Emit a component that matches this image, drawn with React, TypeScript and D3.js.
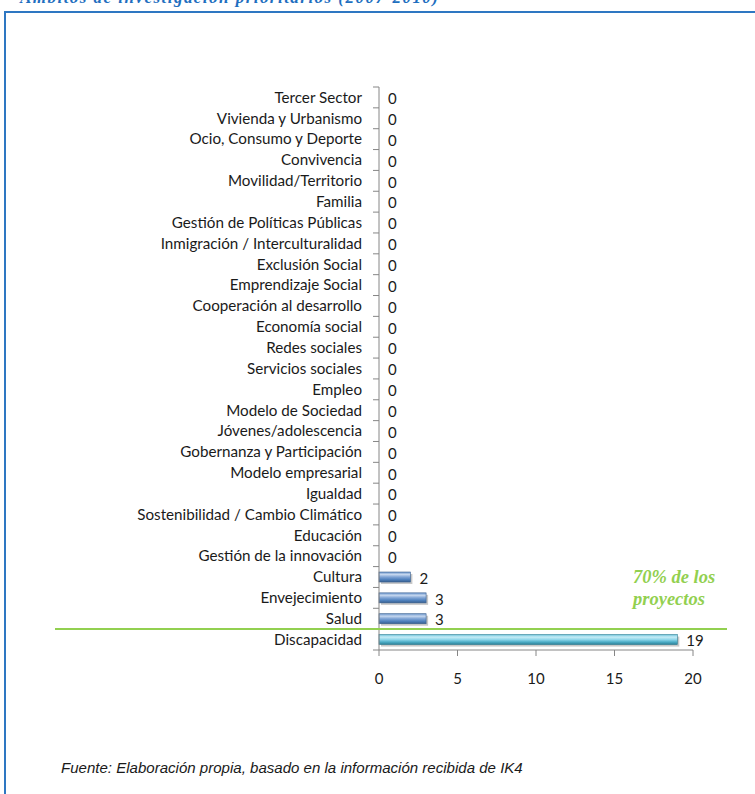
import { useRef, useEffect } from "react";
import * as d3 from "d3";

const categories = [
  "Tercer Sector",
  "Vivienda y Urbanismo",
  "Ocio, Consumo y Deporte",
  "Convivencia",
  "Movilidad/Territorio",
  "Familia",
  "Gestión de Políticas Públicas",
  "Inmigración / Interculturalidad",
  "Exclusión Social",
  "Emprendizaje Social",
  "Cooperación al desarrollo",
  "Economía social",
  "Redes sociales",
  "Servicios sociales",
  "Empleo",
  "Modelo de Sociedad",
  "Jóvenes/adolescencia",
  "Gobernanza y Participación",
  "Modelo empresarial",
  "Igualdad",
  "Sostenibilidad / Cambio Climático",
  "Educación",
  "Gestión de la innovación",
  "Cultura",
  "Envejecimiento",
  "Salud",
  "Discapacidad",
];
const values = [0, 0, 0, 0, 0, 0, 0, 0, 0, 0, 0, 0, 0, 0, 0, 0, 0, 0, 0, 0, 0, 0, 0, 2, 3, 3, 19];
const xTicks = [0, 5, 10, 15, 20];
const highlighted = "Discapacidad";

const title = "Ámbitos de investigación prioritarios (2007-2010)";
const note = ["70% de los", "proyectos"];
const source = "Fuente: Elaboración propia, basado en la información recibida de IK4";

export default function App() {
  const ref = useRef<SVGSVGElement>(null);

  useEffect(() => {
    if (!ref.current) return;
    const svg = d3.select(ref.current);
    svg.selectAll("*").remove();
    const W = 755, H = 794;
    const m = { top: 87, left: 379, right: 62, bottom: 144 };
    const h = H - m.top - m.bottom;
    const labelFont = "Lato, 'Open Sans', sans-serif";
    const axisGray = "#868686";

    const defs = svg.append("defs");
    const grad = (id: string, stops: string[]) => {
      const lg = defs.append("linearGradient").attr("id", id).attr("x1", 0).attr("y1", 0).attr("x2", 0).attr("y2", 1);
      stops.forEach((c, i) => lg.append("stop").attr("offset", i / (stops.length - 1)).attr("stop-color", c));
    };
    grad("gBlue", ["#6d97cc", "#c4d6ee", "#7ea3d4", "#4f81bd", "#385f8f"]);
    grad("gCyan", ["#6cc3da", "#c6ecf6", "#8fd6ea", "#4bacc6", "#2f7f95"]);

    // frame
    svg.append("rect").attr("x", 5).attr("y", 12).attr("width", 800).attr("height", 850)
      .attr("fill", "none").attr("stroke", "#2e77c2").attr("stroke-width", 2);

    svg.append("text").attr("x", 20).attr("y", 3).text(title)
      .attr("font-family", "'Liberation Serif', serif").attr("font-style", "italic").attr("font-weight", "bold")
      .attr("font-size", 17).attr("fill", "#1f6fbf").attr("textLength", 418);

    const g = svg.append("g").attr("transform", `translate(${m.left},${m.top})`);
    const x = d3.scaleLinear().domain([0, 20]).range([0, 314]);
    const y = d3.scaleBand().domain(categories).range([0, h]).paddingInner(0.52).paddingOuter(0.26);
    const step = y.step();

    // bars
    categories.forEach((c, i) => {
      const v = values[i];
      if (v <= 0) return;
      const by = y(c)!;
      const bw = x(v);
      g.append("rect").attr("x", 2).attr("y", by + 2).attr("width", bw).attr("height", y.bandwidth())
        .attr("fill", "#9a9a9a").attr("opacity", 0.55);
      g.append("rect").attr("x", 0).attr("y", by).attr("width", bw).attr("height", y.bandwidth())
        .attr("fill", c === highlighted ? "url(#gCyan)" : "url(#gBlue)")
        .attr("stroke", c === highlighted ? "#2f7f95" : "#385f8f").attr("stroke-width", 0.6);
    });

    // y axis
    g.append("line").attr("x1", 0).attr("x2", 0).attr("y1", 0).attr("y2", h).attr("stroke", axisGray);
    d3.range(categories.length + 1).forEach(i => {
      g.append("line").attr("x1", -6).attr("x2", 0).attr("y1", i * step).attr("y2", i * step).attr("stroke", axisGray);
    });
    categories.forEach(c => {
      g.append("text").attr("x", -17).attr("y", y(c)! + y.bandwidth() / 2).attr("dy", "0.35em")
        .attr("text-anchor", "end").attr("font-family", labelFont).attr("font-size", 15.2).attr("fill", "#1a1a1a").text(c);
    });

    // x axis
    g.append("line").attr("x1", 0).attr("x2", x(20)).attr("y1", h).attr("y2", h).attr("stroke", axisGray);
    xTicks.forEach(t => {
      g.append("line").attr("x1", x(t)).attr("x2", x(t)).attr("y1", h).attr("y2", h + 6).attr("stroke", axisGray);
      g.append("text").attr("x", x(t)).attr("y", h + 29).attr("dy", "0.35em").attr("text-anchor", "middle")
        .attr("font-family", labelFont).attr("font-size", 15).attr("fill", "#1a1a1a").text(t);
    });

    // value labels
    categories.forEach((c, i) => {
      g.append("text").attr("x", x(values[i]) + 9).attr("y", y(c)! + y.bandwidth() / 2 + 1.5).attr("dy", "0.35em")
        .attr("font-family", labelFont).attr("font-size", 15).attr("fill", "#1a1a1a").text(values[i]);
    });

    // 70% separator line
    const sepY = m.top + y("Salud")! + step * 0.25 + y.bandwidth();
    svg.append("line").attr("x1", 55).attr("x2", 727).attr("y1", sepY).attr("y2", sepY)
      .attr("stroke", "#92d050").attr("stroke-width", 2);
    note.forEach((t, i) => {
      svg.append("text").attr("x", 633).attr("y", 583 + i * 22).text(t)
        .attr("font-family", "'Liberation Serif', serif").attr("font-style", "italic").attr("font-weight", "bold")
        .attr("font-size", 18.5).attr("fill", "#92d050");
    });

    const src = svg.append("text").attr("x", 61).attr("y", 773).text(source)
      .attr("font-family", "'Liberation Sans', Arial, sans-serif").attr("font-style", "italic")
      .attr("font-size", 12).attr("fill", "#1a1a1a");
    const len = (src.node() as SVGTextElement).getComputedTextLength();
    if (len > 0) src.attr("font-size", 12 * 462 / len);
  }, []);

  return <svg ref={ref} width={755} height={794} style={{ position: "absolute", left: 0, top: 0 }} />;
}
